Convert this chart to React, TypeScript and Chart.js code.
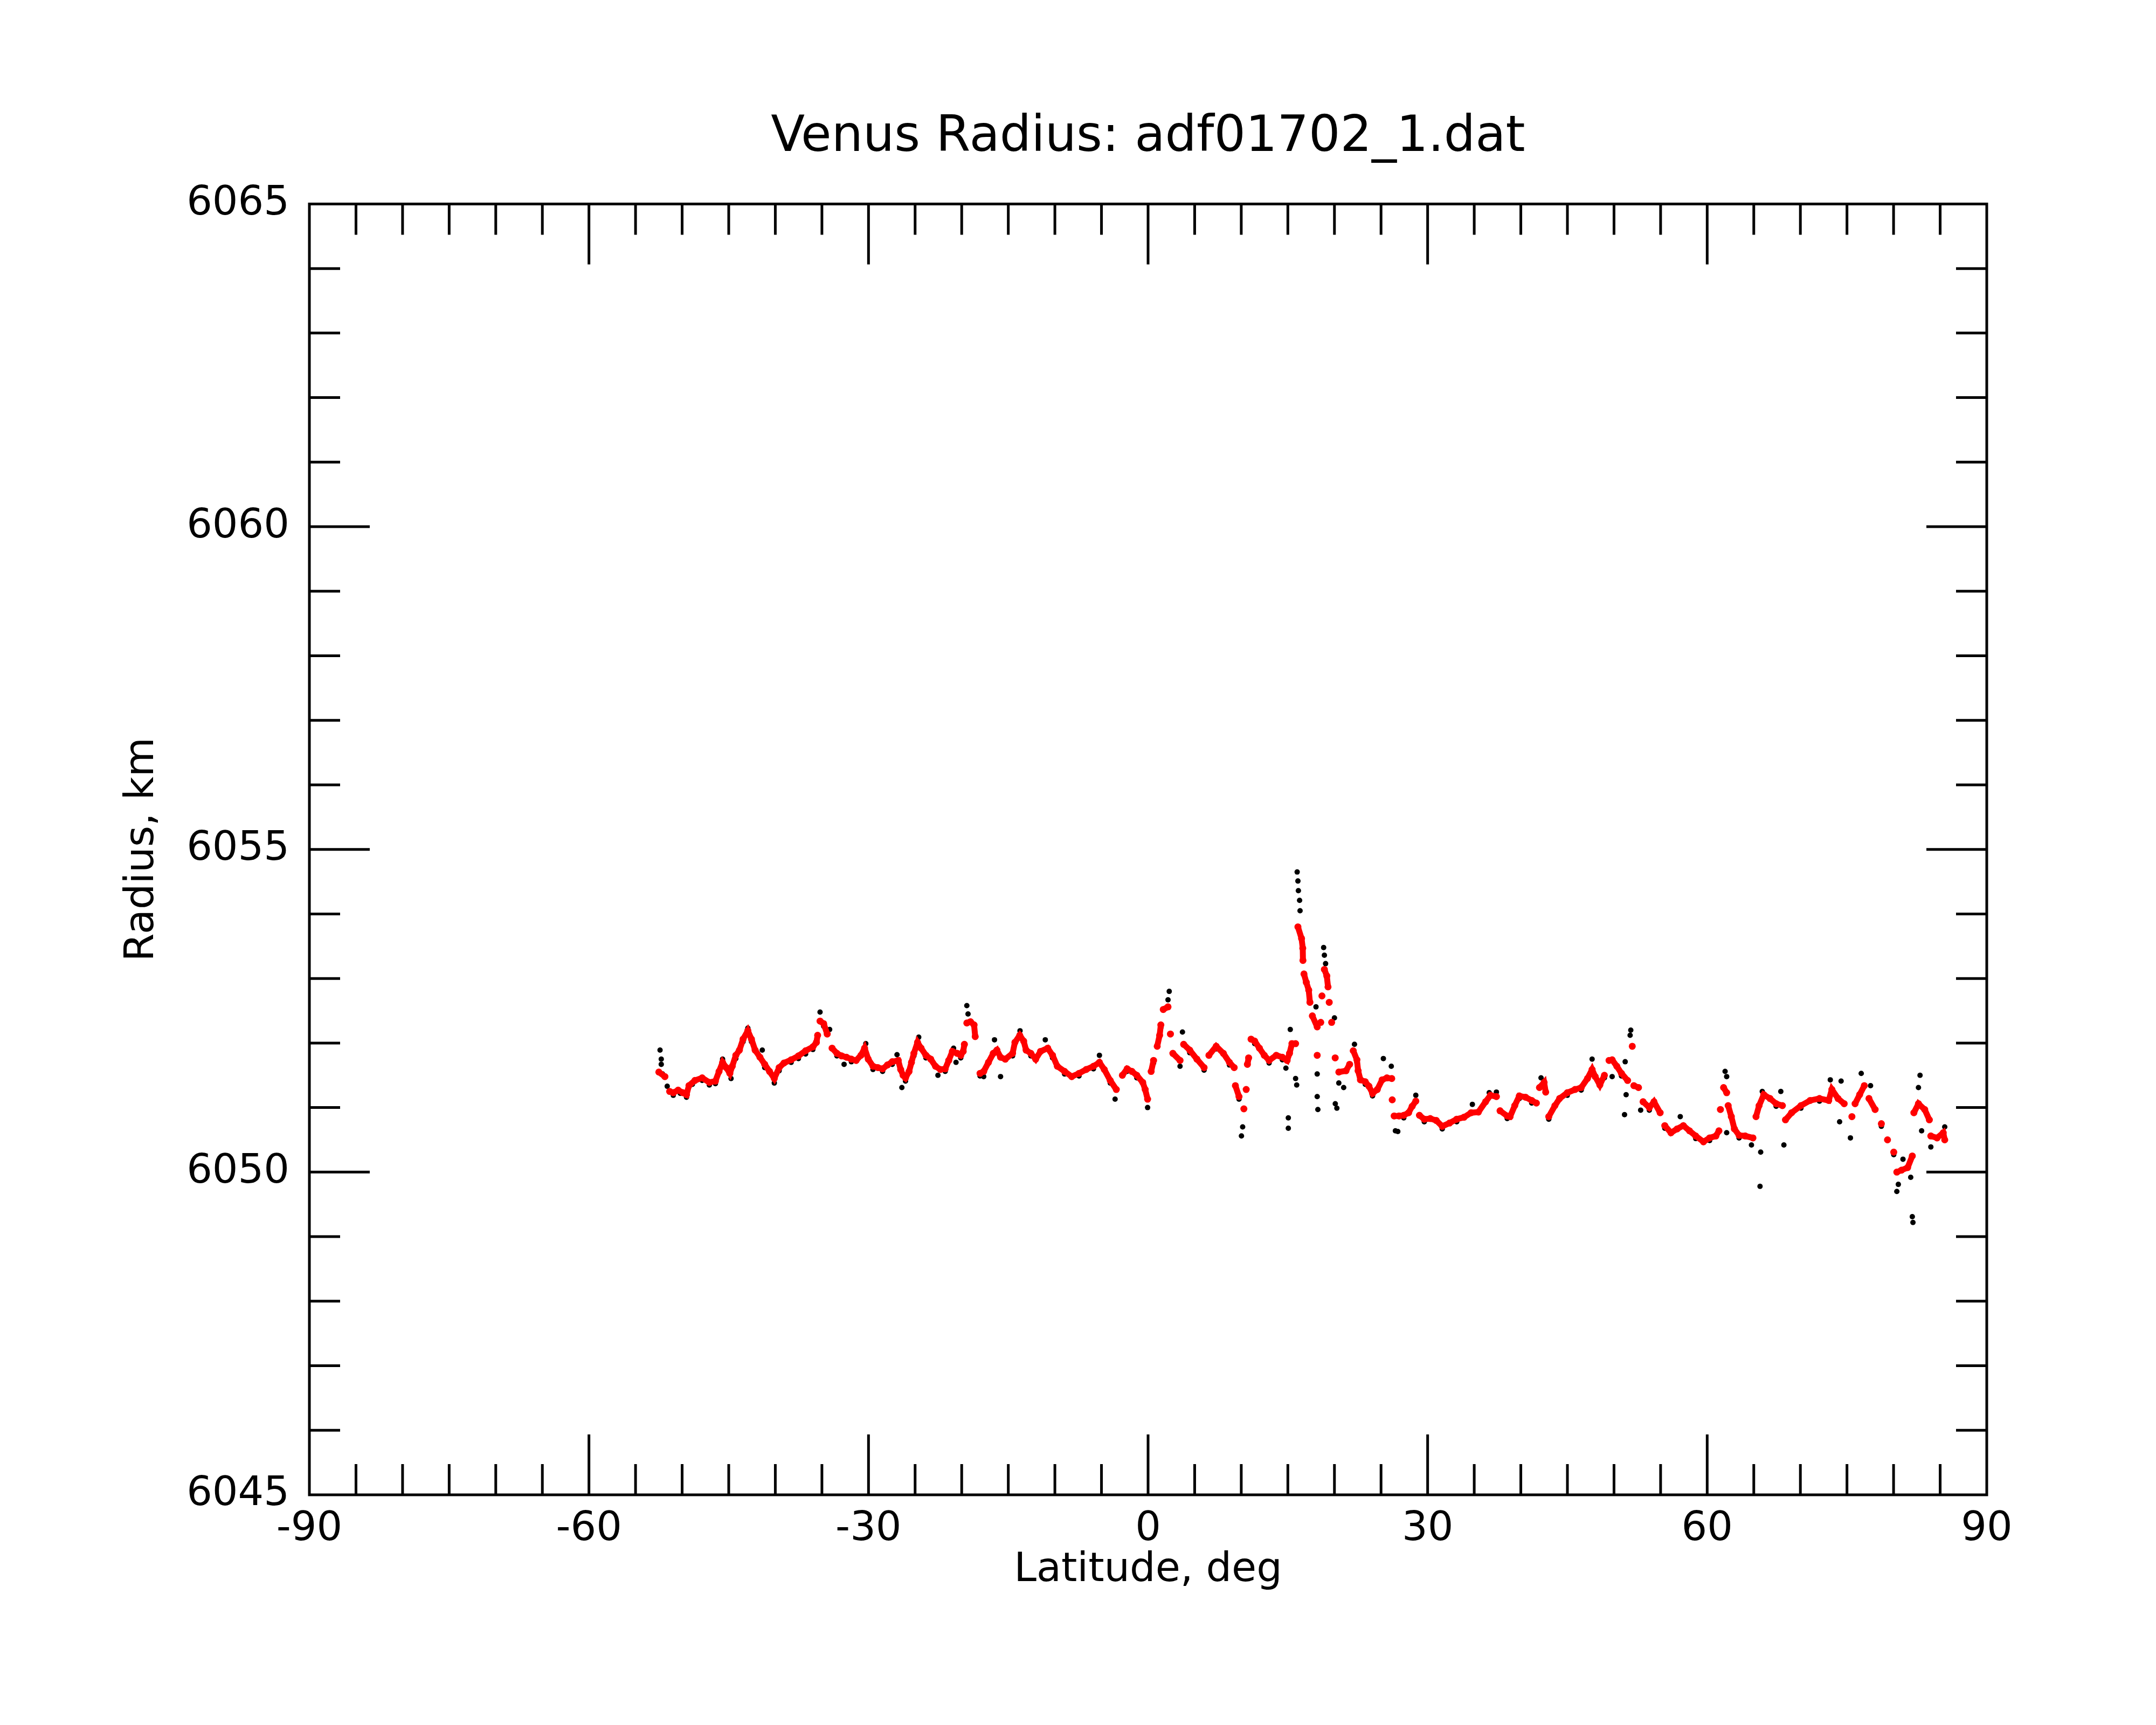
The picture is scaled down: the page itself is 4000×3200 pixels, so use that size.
import { useEffect, useRef } from "react";
import Chart from "chart.js/auto";

// filtered radius (red)
const redLat = [
  -52.5, -51.85, -51.34, -50.95, -50.43, -49.92, -49.53, -49.27, -48.63, -47.85, -47.08, -46.43,
  -46.04, -45.66, -45.27, -44.88, -44.62, -44.24, -43.85, -43.46, -42.95, -42.56, -42.17, -41.65,
  -41.14, -40.62, -40.11, -39.59, -39.07, -38.3, -37.52, -36.75, -35.97, -35.59, -35.46, -35.2,
  -34.81, -34.43, -33.91, -33.39, -32.88, -32.36, -31.84, -31.33, -30.81, -30.42, -30.03, -29.52,
  -29.0, -28.49, -27.97, -27.45, -26.81, -26.55, -26.29, -26.03, -25.65, -25.39, -25.13, -24.74,
  -24.36, -23.84, -23.32, -22.81, -22.29, -21.77, -21.39, -21.0, -20.48, -20.1, -19.84, -19.71,
  -19.45, -19.06, -18.67, -18.55, -18.03, -17.64, -17.13, -16.61, -16.22, -15.83, -15.32, -14.54,
  -14.29, -13.77, -13.35, -13.09, -12.58, -12.06, -11.54, -10.77, -10.25, -9.74, -8.96, -8.19,
  -7.41, -6.64, -5.86, -5.22, -4.7, -4.06, -3.41, -2.76, -2.25, -1.73, -1.21, -0.57,
  -0.31, -0.05, 0.33, 0.59, 0.98, 1.24, 1.37, 1.63, 2.14, 2.4, 2.66, 3.43,
  3.82, 4.47, 5.24, 6.01, 6.53, 7.31, 8.08, 8.73, 9.24, 9.37, 9.76, 10.28,
  10.53, 10.66, 10.79, 11.05, 11.44, 11.95, 12.47, 12.99, 13.76, 14.41, 14.92, 15.18,
  15.44, 15.83, 16.08, 16.47, 16.6, 16.62, 16.73, 16.98, 17.24, 17.37, 17.63, 18.15,
  18.15, 18.53, 18.66, 18.92, 19.18, 19.31, 19.44, 19.7, 20.08, 20.47, 21.24, 21.63,
  22.02, 22.41, 22.54, 22.79, 23.31, 23.7, 24.09, 24.6, 25.12, 25.63, 26.15, 26.2,
  26.41, 26.93, 27.44, 27.96, 28.34, 28.73, 29.12, 29.64, 30.28, 30.93, 31.57, 32.35,
  33.12, 33.9, 34.67, 35.45, 36.22, 36.74, 37.38, 37.77, 38.54, 38.85, 39.35, 39.84,
  40.51, 41.17, 41.67, 42.0, 42.5, 42.67, 43.0, 43.66, 44.16, 44.99, 45.82, 46.48,
  47.15, 47.65, 47.98, 48.48, 48.97, 49.47, 49.8, 50.3, 50.8, 51.46, 51.96, 52.13,
  52.63, 53.12, 53.79, 54.29, 54.95, 55.45, 56.11, 56.78, 57.44, 58.1, 58.77, 59.6,
  60.26, 60.93, 61.26, 61.42, 61.76, 62.09, 62.25, 62.59, 62.92, 63.42, 64.08, 64.91,
  65.24, 65.57, 66.07, 66.74, 67.4, 68.07, 68.4, 69.06, 70.06, 71.05, 72.05, 73.04,
  73.38, 74.04, 74.7, 75.53, 75.87, 76.36, 76.86, 77.36, 78.02, 78.69, 79.35, 80.02,
  80.35, 80.85, 81.51, 82.01, 82.18, 82.67, 83.34, 83.84, 84.0, 84.67, 85.33, 85.49,
];
const redRadius = [
  6051.55, 6051.48, 6051.25, 6051.23, 6051.27, 6051.23, 6051.2, 6051.34, 6051.42, 6051.46, 6051.39, 6051.41,
  6051.56, 6051.7, 6051.62, 6051.53, 6051.64, 6051.81, 6051.89, 6052.06, 6052.19, 6052.06, 6051.89, 6051.78,
  6051.67, 6051.56, 6051.45, 6051.62, 6051.69, 6051.74, 6051.8, 6051.88, 6051.94, 6052.01, 6052.12, 6052.34,
  6052.3, 6052.14, 6051.92, 6051.84, 6051.8, 6051.78, 6051.75, 6051.73, 6051.81, 6051.92, 6051.75, 6051.64,
  6051.62, 6051.6, 6051.66, 6051.71, 6051.73, 6051.59, 6051.5, 6051.46, 6051.56, 6051.7, 6051.84, 6052.01,
  6051.92, 6051.81, 6051.75, 6051.64, 6051.59, 6051.6, 6051.73, 6051.87, 6051.84, 6051.81, 6051.87, 6051.98,
  6052.31, 6052.33, 6052.28, 6052.1, 6051.53, 6051.56, 6051.7, 6051.84, 6051.89, 6051.78, 6051.75, 6051.84,
  6052.01, 6052.12, 6052.03, 6051.89, 6051.84, 6051.75, 6051.87, 6051.92, 6051.81, 6051.64, 6051.56, 6051.48,
  6051.53, 6051.59, 6051.64, 6051.7, 6051.59, 6051.42, 6051.28, 6051.5, 6051.6, 6051.56, 6051.5, 6051.39,
  6051.28, 6051.13, 6051.56, 6051.73, 6051.95, 6052.12, 6052.28, 6052.52, 6052.56, 6052.14, 6051.84, 6051.73,
  6051.98, 6051.89, 6051.75, 6051.62, 6051.81, 6051.95, 6051.84, 6051.7, 6051.62, 6051.34, 6051.17, 6050.98,
  6051.28, 6051.67, 6051.77, 6052.06, 6052.03, 6051.92, 6051.81, 6051.73, 6051.81, 6051.78, 6051.73, 6051.84,
  6051.99, 6051.99, 6053.8, 6053.62, 6053.47, 6053.28, 6053.07, 6052.94, 6052.82, 6052.63, 6052.42, 6052.25,
  6051.81, 6052.32, 6052.73, 6053.14, 6053.04, 6052.87, 6052.63, 6052.32, 6051.77, 6051.55, 6051.57, 6051.67,
  6051.88, 6051.74, 6051.57, 6051.43, 6051.4, 6051.33, 6051.22, 6051.28, 6051.43, 6051.46, 6051.45, 6051.12,
  6050.87, 6050.87, 6050.88, 6050.92, 6051.02, 6051.1, 6050.88, 6050.82, 6050.83, 6050.8, 6050.71, 6050.76,
  6050.82, 6050.85, 6050.92, 6050.93, 6051.09, 6051.19, 6051.17, 6050.95, 6050.87, 6050.86, 6051.03, 6051.18,
  6051.16, 6051.11, 6051.07, 6051.31, 6051.39, 6051.24, 6050.86, 6051.03, 6051.14, 6051.23, 6051.28, 6051.31,
  6051.45, 6051.59, 6051.48, 6051.35, 6051.5, 6051.73, 6051.74, 6051.64, 6051.53, 6051.42, 6051.95, 6051.34,
  6051.31, 6051.09, 6051.0, 6051.09, 6050.92, 6050.72, 6050.61, 6050.67, 6050.72, 6050.64, 6050.56, 6050.47,
  6050.53, 6050.56, 6050.64, 6050.97, 6051.31, 6051.23, 6051.03, 6050.86, 6050.67, 6050.57, 6050.56, 6050.53,
  6050.86, 6051.03, 6051.2, 6051.14, 6051.06, 6051.03, 6050.81, 6050.92, 6051.03, 6051.11, 6051.14, 6051.11,
  6051.28, 6051.14, 6051.06, 6050.86, 6051.06, 6051.2, 6051.34, 6051.14, 6050.97, 6050.75, 6050.5, 6050.31,
  6050.0, 6050.03, 6050.07, 6050.25, 6050.92, 6051.06, 6050.97, 6050.81, 6050.56, 6050.53, 6050.61, 6050.5,
];

// raw radius (black)
const blackLat = [
  -52.37, -52.24, -52.24, -52.1, -51.6, -50.95, -50.2, -49.53, -48.9, -47.85, -47.08, -46.43,
  -45.66, -44.75, -44.24, -43.46, -42.95, -42.56, -41.4, -41.14, -40.11, -39.59, -38.3, -37.52,
  -36.75, -35.97, -35.2, -34.81, -34.17, -33.39, -32.62, -31.84, -30.29, -29.52, -28.49, -27.45,
  -26.94, -26.42, -26.03, -25.13, -24.61, -23.84, -22.55, -21.77, -20.87, -20.61, -20.1, -19.45,
  -19.32, -18.03, -17.64, -16.48, -15.83, -14.54, -13.74, -12.58, -11.03, -10.25, -8.96, -7.41,
  -5.86, -5.22, -4.06, -3.54, -2.25, -1.21, -0.05, 0.59, 1.37, 2.14, 2.27, 3.43,
  3.69, 4.47, 6.01, 7.31, 8.73, 9.76, 10.02, 10.15, 11.44, 12.99, 14.41, 14.79,
  15.05, 15.05, 15.26, 15.83, 15.95, 16.0, 16.08, 16.13, 16.26, 16.31, 18.02, 18.15,
  18.15, 18.22, 18.84, 18.92, 19.05, 20.0, 20.09, 20.26, 20.47, 20.99, 22.15, 22.41,
  23.31, 24.09, 25.25, 26.1, 26.54, 26.8, 27.44, 28.73, 29.64, 31.57, 33.12, 34.8,
  36.61, 37.38, 38.54, 39.84, 41.17, 42.17, 43.0, 44.99, 46.48, 47.65, 48.97, 49.8,
  50.8, 51.13, 51.2, 51.3, 51.73, 51.8, 52.86, 53.79, 55.45, 57.11, 58.77, 60.26,
  61.92, 62.09, 62.09, 63.42, 64.75, 65.67, 65.74, 65.91, 67.4, 67.9, 68.23, 70.06,
  72.05, 73.21, 74.21, 74.37, 75.37, 76.53, 77.53, 78.69, 80.02, 80.35, 80.51, 81.01,
  81.84, 82.01, 82.08, 82.67, 82.84, 83.01, 84.0, 85.49,
];
const blackRadius = [
  6051.89, 6051.75, 6051.67, 6051.52, 6051.33, 6051.19, 6051.22, 6051.16, 6051.36, 6051.42, 6051.35, 6051.37,
  6051.75, 6051.45, 6051.76, 6052.02, 6052.23, 6052.02, 6051.89, 6051.62, 6051.38, 6051.57, 6051.7, 6051.76,
  6051.83, 6051.9, 6052.48, 6052.26, 6052.21, 6051.8, 6051.67, 6051.71, 6051.99, 6051.59, 6051.56, 6051.67,
  6051.82, 6051.31, 6051.41, 6051.8, 6052.09, 6051.77, 6051.5, 6051.56, 6051.92, 6051.7, 6051.77, 6052.58,
  6052.45, 6051.49, 6051.48, 6052.05, 6051.48, 6051.8, 6052.19, 6051.8, 6052.05, 6051.77, 6051.52, 6051.49,
  6051.6, 6051.81, 6051.38, 6051.13, 6051.56, 6051.46, 6051.0, 6051.69, 6052.24, 6052.67, 6052.8, 6051.64,
  6052.17, 6051.85, 6051.58, 6051.91, 6051.66, 6051.13, 6050.56, 6050.7, 6051.99, 6051.69, 6051.74, 6051.61,
  6050.84, 6050.68, 6052.21, 6051.45, 6051.35, 6054.65, 6054.51, 6054.36, 6054.21, 6054.05, 6052.56, 6051.52,
  6051.17, 6050.97, 6053.48, 6053.36, 6053.23, 6052.39, 6051.06, 6050.99, 6051.38, 6051.31, 6051.98, 6051.7,
  6051.36, 6051.18, 6051.76, 6051.64, 6050.64, 6050.63, 6050.84, 6051.19, 6050.78, 6050.67, 6050.78, 6051.05,
  6051.23, 6051.24, 6050.83, 6051.14, 6051.07, 6051.46, 6050.82, 6051.19, 6051.27, 6051.75, 6051.46, 6051.48,
  6051.49, 6050.89, 6051.71, 6051.2, 6052.12, 6052.2, 6050.96, 6050.96, 6050.68, 6050.86, 6050.52, 6050.49,
  6051.56, 6051.48, 6050.61, 6050.53, 6050.42, 6049.78, 6050.31, 6051.25, 6051.02, 6051.25, 6050.42, 6050.99,
  6051.1, 6051.43, 6050.78, 6051.41, 6050.53, 6051.53, 6051.34, 6050.71, 6050.27, 6049.7, 6049.81, 6050.2,
  6049.92, 6049.31, 6049.22, 6051.31, 6051.5, 6050.64, 6050.39, 6050.7,
];

const xRange = [-90, 90];
const yRange = [6045, 6065];
const xLabelStep = 30;
const yLabelStep = 5;
const xMinorStep = 5;
const yMinorStep = 1;

const FONT = "DejaVu Sans";
const MAJOR_LEN = 112;
const MINOR_LEN = 57;

// the dense red samples look like a band; only bridge neighbours that are close
const bridge = (ctx: any) => {
  const a = ctx.p0;
  const b = ctx.p1;
  return Math.hypot(b.x - a.x, b.y - a.y) > 24 ? "rgba(0,0,0,0)" : "#ff0000";
};

const frameTicks = {
  id: "frameTicks",
  afterDatasetsDraw(chart: any) {
    const { ctx, chartArea: a, scales } = chart;
    const xs = scales.x;
    const ys = scales.y;
    ctx.save();
    ctx.strokeStyle = "#000";
    ctx.lineWidth = 5;
    ctx.lineCap = "butt";
    ctx.beginPath();
    for (let v = xRange[0] + xMinorStep; v < xRange[1]; v += xMinorStep) {
      const px = xs.getPixelForValue(v);
      const len = v % xLabelStep === 0 ? MAJOR_LEN : MINOR_LEN;
      ctx.moveTo(px, a.bottom);
      ctx.lineTo(px, a.bottom - len);
      ctx.moveTo(px, a.top);
      ctx.lineTo(px, a.top + len);
    }
    for (let v = yRange[0] + yMinorStep; v < yRange[1]; v += yMinorStep) {
      const py = ys.getPixelForValue(v);
      const len = v % yLabelStep === 0 ? MAJOR_LEN : MINOR_LEN;
      ctx.moveTo(a.left, py);
      ctx.lineTo(a.left + len, py);
      ctx.moveTo(a.right, py);
      ctx.lineTo(a.right - len, py);
    }
    ctx.stroke();
    ctx.strokeRect(a.left, a.top, a.right - a.left, a.bottom - a.top);
    ctx.restore();
  },
};

const App = () => {
  const chartRef = useRef<HTMLCanvasElement>(null);
  const chartInstance = useRef<Chart | null>(null);

  useEffect(() => {
    if (!chartRef.current) return;
    if (chartInstance.current) chartInstance.current.destroy();
    const ctx = chartRef.current.getContext("2d");
    if (!ctx) return;

    const tickFont = { family: FONT, size: 75, weight: "normal" as const };

    chartInstance.current = new Chart(ctx, {
      type: "scatter",
      data: {
        datasets: [
          {
            label: "filtered",
            data: redLat.map((x, i) => ({ x, y: redRadius[i] })),
            backgroundColor: "#ff0000",
            borderColor: "#ff0000",
            showLine: true,
            borderWidth: 11,
            tension: 0,
            segment: { borderColor: bridge },
            pointBorderWidth: 0,
            pointRadius: 6.5,
            pointHoverRadius: 6.5,
          },
          {
            label: "raw",
            data: blackLat.map((x, i) => ({ x, y: blackRadius[i] })),
            backgroundColor: "#000000",
            borderWidth: 0,
            pointRadius: 5,
            pointHoverRadius: 5,
          },
        ],
      },
      options: {
        responsive: false,
        devicePixelRatio: 1,
        animation: false,
        layout: { padding: { top: 0, left: 220, right: 314, bottom: 241 } },
        plugins: {
          legend: { display: false },
          tooltip: { enabled: false },
          title: {
            display: true,
            fullSize: false,
            text: "Venus Radius: adf01702_1.dat",
            color: "#000",
            font: { family: FONT, size: 92, weight: "normal" },
            padding: { top: 201, bottom: 67 },
          },
        },
        scales: {
          x: {
            type: "linear",
            min: xRange[0],
            max: xRange[1],
            afterFit: (s: any) => {
              s.height = 186;
            },
            ticks: {
              stepSize: xLabelStep,
              autoSkip: false,
              maxRotation: 0,
              padding: 20,
              color: "#000",
              font: tickFont,
              callback: (v: any) => String(v),
            },
            grid: { display: false, drawTicks: false },
            border: { display: false },
            title: {
              display: true,
              text: "Latitude, deg",
              color: "#000",
              font: tickFont,
              padding: 0,
            },
          },
          y: {
            type: "linear",
            min: yRange[0],
            max: yRange[1],
            afterFit: (s: any) => {
              s.width = 354;
            },
            ticks: {
              stepSize: yLabelStep,
              autoSkip: false,
              padding: 37,
              color: "#000",
              font: tickFont,
              callback: (v: any) => String(v),
            },
            grid: { display: false, drawTicks: false },
            border: { display: false },
            title: {
              display: true,
              text: "Radius, km",
              color: "#000",
              font: tickFont,
              padding: 0,
            },
          },
        },
      },
      plugins: [frameTicks],
    });

    return () => {
      if (chartInstance.current) {
        chartInstance.current.destroy();
        chartInstance.current = null;
      }
    };
  }, []);

  return (
    <div style={{ position: "absolute", left: 0, top: 0, width: 4000, height: 3200, background: "#fff" }}>
      <canvas ref={chartRef} width={4000} height={3200} />
    </div>
  );
};

export default App;
